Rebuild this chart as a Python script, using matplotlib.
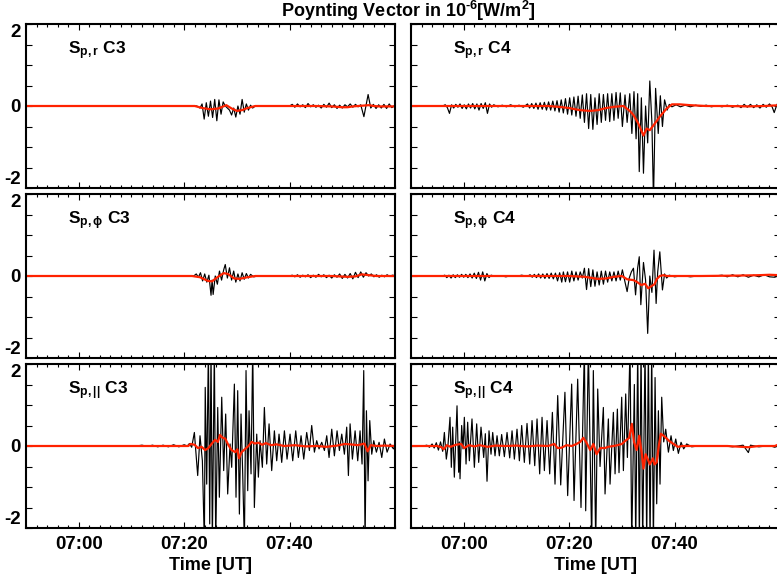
import numpy as np
import matplotlib.pyplot as plt
from matplotlib.ticker import MultipleLocator, FixedLocator, FuncFormatter

plt.rcParams['font.family'] = 'Liberation Sans'
plt.rcParams['font.weight'] = 'bold'
plt.rcParams['mathtext.fontset'] = 'custom'
plt.rcParams['mathtext.rm'] = 'Liberation Sans:bold'
plt.rcParams['mathtext.bf'] = 'Liberation Sans:bold'
plt.rcParams['mathtext.it'] = 'Liberation Sans:bold'
plt.rcParams['mathtext.default'] = 'rm'

# time in minutes after 06:50 UT, values in 1e-6 W/m^2
# C3, radial component
spr_c3 = [(0, 0), (3, 0.01), (6, -0.01), (9, 0.01), (12, 0), (15, 0.01), (18, -0.01), (21, 0),
          (24, 0.01), (27, -0.01), (30, 0), (32.4, 0), (33.0, -0.05), (33.4, 0.05), (33.8, -0.32),
          (34.2, 0.08), (34.6, -0.25), (35.0, 0.12), (35.4, -0.28), (35.8, 0.16), (36.2, -0.36),
          (36.6, 0.15), (37.0, -0.2), (37.4, 0.1), (37.8, 0.0), (38.2, -0.05), (38.6, -0.1),
          (39.0, -0.22), (39.4, -0.05), (39.8, -0.27), (40.2, 0.0), (40.6, -0.2), (41.0, 0.16),
          (41.4, -0.15), (41.8, 0.05), (42.2, -0.1), (42.6, 0.02), (43.0, -0.05), (43.5, 0),
          (44.5, 0.01), (46, -0.01), (48, 0.01), (50, 0),
          (50.5, 0.04), (51.0, -0.03), (51.5, 0.05), (52.0, -0.02), (52.5, 0.03), (53.0, -0.04),
          (53.5, 0.06), (54.0, -0.02), (54.5, 0.03), (55.0, -0.03), (55.5, 0.02), (56.0, -0.05),
          (56.5, 0.04), (57.0, -0.03), (57.5, 0.07), (58.0, -0.04), (58.5, 0.03), (59.0, -0.06),
          (59.5, 0.02), (60.0, -0.05), (60.5, 0.03), (61.0, -0.02), (61.5, 0.05), (62.0, -0.03),
          (62.5, 0.04), (63.0, -0.02), (63.5, 0.03), (64.1, -0.26), (64.9, 0.28), (65.4, -0.05),
          (65.9, 0.04), (66.4, -0.06), (66.9, 0.03), (67.4, -0.05), (67.9, 0.04), (68.4, -0.06),
          (68.9, 0.05), (69.4, -0.04), (70, 0.02)]
spr_c3_avg = [(0, 0), (32, 0), (33.5, -0.05), (35, -0.08), (36.5, -0.06), (38, 0.02), (39, -0.06),
              (40, -0.12), (41, -0.1), (42, -0.05), (43.5, 0), (46, 0), (50, 0), (55, 0),
              (58, -0.01), (60, -0.03), (61, -0.03), (62, -0.01), (64, 0.01), (65, 0.02), (66, 0),
              (67, -0.01), (70, -0.01)]

# C3, azimuthal component
spp_c3 = [(0, 0), (3, 0.01), (6, -0.01), (9, 0), (12, 0.01), (15, -0.01), (18, 0), (21, 0.01),
          (24, 0), (27, -0.01), (30, 0), (31.8, 0), (32.3, 0.05), (32.7, -0.03), (33.1, 0.08),
          (33.5, -0.12), (33.9, 0.05), (34.3, -0.15), (34.7, 0.02), (35.1, -0.47), (35.3, -0.1),
          (35.5, -0.45), (35.9, 0.0), (36.3, -0.2), (36.7, 0.12), (37.1, -0.1), (37.5, 0.15),
          (37.8, 0.28), (38.2, -0.05), (38.6, 0.2), (39.0, -0.1), (39.4, 0.12), (39.8, -0.15),
          (40.2, 0.05), (40.6, -0.12), (41.0, 0.08), (41.4, -0.08), (41.8, 0.06), (42.2, -0.05),
          (42.6, 0.04), (43.2, -0.02), (44.0, 0), (45.5, 0.01), (47, -0.01), (48.5, 0.01), (50, 0),
          (50.5, 0.02), (51.0, -0.02), (51.5, 0.03), (52.0, -0.03), (52.5, 0.02), (53.0, -0.02),
          (53.5, 0.03), (54.0, -0.04), (54.5, 0.02), (55.0, -0.03), (55.5, 0.04), (56.0, -0.02),
          (56.5, 0.03), (57.0, -0.04), (57.5, 0.02), (58.0, -0.05), (58.5, 0.03), (59.0, -0.03),
          (59.5, 0.05), (60.0, -0.06), (60.5, 0.04), (61.0, -0.05), (61.5, 0.06), (62.0, -0.07),
          (62.5, 0.09), (63.0, -0.04), (63.5, 0.1), (64.0, -0.03), (64.5, 0.08), (65.0, 0.0),
          (65.5, 0.05), (66.0, -0.02), (66.5, 0.03), (67.0, -0.03), (67.5, 0.02), (68.0, -0.02),
          (68.5, 0.03), (69.0, -0.01), (69.5, 0.02), (70, 0.01)]
spp_c3_avg = [(0, 0), (31.5, 0), (33, -0.03), (34.5, -0.12), (35.3, -0.13), (36.3, -0.03),
              (37.5, 0.07), (38.3, 0.05), (39.5, -0.06), (40.5, -0.07), (42, -0.03), (43.5, 0),
              (50, 0), (58, 0), (61, -0.02), (62.5, -0.01), (63.7, 0.04), (65, 0.02), (66.5, 0),
              (70, 0)]

# C3, field-aligned component
spb_c3 = [(0, 0), (3, 0), (6, 0.01), (9, 0), (12, -0.01), (15, 0), (18, 0.01), (21, 0), (22, 0.02),
          (23, -0.01), (24, 0.02), (25, -0.02), (26, 0.02), (27, -0.02), (28, 0.03), (29, -0.02),
          (30, 0.03), (30.6, 0.0), (31.0, 0.06), (31.43, -0.03), (31.94, 0.33), (32.57, -0.72),
          (33.01, 0.25), (33.46, -0.36), (33.84, -2.4), (34.0, 1.43), (34.28, -0.93), (34.6, 2.4),
          (34.85, -1.9), (35.1, 2.4), (35.35, -2.4), (35.73, 2.4), (35.99, -2.4), (36.37, 0.94),
          (36.68, -1.25), (37.13, 1.19), (37.5, -0.6), (37.88, 0.78), (38.26, -1.17), (38.71, 0.05),
          (39.02, -0.52), (39.53, 1.51), (39.84, -1.25), (40.16, 1.35), (40.48, -1.66),
          (40.79, 0.78), (41.11, -0.68), (41.43, -2.4), (41.74, 1.84), (42.06, -1.09),
          (42.31, 0.86), (42.69, -0.68), (43.01, 2.4), (43.32, -1.5), (43.77, 0.29), (44.08, -0.76),
          (44.4, 0.13), (44.84, -0.52), (45.22, 0.94), (45.66, -0.44), (46.11, 0.54),
          (46.61, -0.6), (47.12, 0.37), (47.56, -0.36), (48.0, 0.29), (48.51, -0.4), (49.02, 0.37),
          (49.52, -0.32), (50.09, 0.29), (50.6, -0.36), (51.17, 0.37), (51.67, -0.28),
          (52.18, 0.25), (52.69, -0.32), (53.25, 0.33), (53.76, -0.11), (54.2, 0.5),
          (54.71, -0.15), (55.15, 0.13), (55.59, -0.07), (56.1, 0.09), (56.61, -0.11),
          (57.05, 0.25), (57.49, -0.28), (58.0, 0.41), (58.5, -0.24), (59.01, 0.37),
          (59.45, -0.11), (59.9, 0.29), (60.4, -0.2), (60.84, 0.46), (61.16, -0.72), (61.48, 0.54),
          (61.92, -0.32), (62.43, 0.37), (62.93, -0.36), (63.37, 0.37), (63.75, -0.44),
          (64.07, 1.84), (64.32, -2.4), (64.58, 0.86), (64.89, -0.85), (65.21, 0.62),
          (65.59, -0.2), (65.97, 0.13), (66.47, -0.15), (66.98, 0.09), (67.49, -0.28),
          (67.99, 0.17), (68.5, -0.15), (69.07, 0.05), (69.7, -0.07), (70, 0)]
spb_c3_avg = [(0, 0), (30.8, 0), (31.2, 0.05), (32, 0.03), (32.6, -0.05), (33.3, -0.02),
              (34.0, -0.1), (34.6, -0.05), (35.2, 0.05), (35.86, 0.15), (36.4, 0.1), (36.8, 0.27),
              (37.3, 0.2), (37.8, 0.18), (38.4, 0.02), (39.0, -0.1), (39.7, -0.15), (40.1, -0.08),
              (40.4, -0.3), (40.9, -0.15), (41.5, -0.08), (42.2, 0.0), (42.8, 0.1), (43.4, 0.06),
              (44.1, 0.08), (44.8, 0.03), (45.5, 0.07), (46.5, 0.02), (47.5, 0.04), (49, 0.0),
              (51, 0.02), (53, -0.01), (55, 0), (57, -0.02), (59, 0.01), (60.5, 0.05),
              (61.5, 0.04), (63, 0.02), (64.2, 0.06), (64.8, -0.13), (65.4, 0.02), (66.5, 0),
              (68, 0.01), (70, 0)]

# C4, radial component
spr_c4 = [(0, 0), (1.5, 0.01), (3, -0.01), (4.5, 0.01), (6, 0),
          (6.5, 0.03), (6.9, -0.04), (7.3, -0.18), (7.7, 0.03), (8.1, -0.05), (8.5, 0.04),
          (8.9, -0.03), (9.3, 0.05), (9.7, -0.06), (10.1, 0.03), (10.5, -0.07), (10.9, 0.05),
          (11.3, -0.05), (11.7, 0.06), (12.1, -0.07), (12.5, 0.05), (12.9, -0.1), (13.3, 0.06),
          (13.7, -0.06), (14.1, 0.08), (14.5, -0.18), (14.9, 0.05), (15.3, -0.03),
          (15.7, 0.03), (16.5, -0.02), (17.3, 0.02), (18.1, -0.02), (18.9, 0.03), (19.7, -0.02),
          (20.5, 0.02), (21.3, -0.03),
          (22.1, 0.05), (22.5, -0.05), (22.9, 0.06), (23.3, -0.06), (23.7, 0.07), (24.1, -0.08),
          (24.5, 0.08), (24.9, -0.08), (25.3, 0.09), (25.7, -0.1), (26.1, 0.1), (26.5, -0.1),
          (26.9, 0.12), (27.3, -0.12), (27.7, 0.13), (28.1, -0.15), (28.5, 0.15), (28.9, -0.17),
          (29.3, 0.18), (29.7, -0.2), (30.1, 0.2), (30.5, -0.22), (30.9, 0.22), (31.3, -0.25),
          (31.7, 0.24), (32.1, -0.3), (32.5, 0.27), (32.9, -0.4), (33.3, 0.3), (33.7, -0.55),
          (34.1, 0.28), (34.5, -0.57), (34.9, 0.2), (35.3, -0.45), (35.7, 0.3), (36.1, -0.4),
          (36.5, 0.28), (36.9, -0.35), (37.3, 0.3), (37.7, -0.38), (38.1, 0.3), (38.5, -0.35),
          (38.9, 0.33), (39.3, -0.3), (39.7, 0.32), (40.1, -0.5), (40.6, 0.27), (41.0, -0.4),
          (41.5, 0.3), (41.9, -0.67), (42.3, 0.35), (42.7, -0.8), (43.0, 0.3), (43.3, -1.6),
          (43.7, 0.2), (44.1, -1.64), (44.5, 0.0), (44.9, -0.9), (45.3, 0.61), (45.7, -0.4),
          (46.0, -2.3), (46.4, 0.43), (46.9, -0.67), (47.3, 0.25), (47.7, -0.5), (48.1, 0.15),
          (48.6, -0.1), (49.0, 0.04), (49.5, -0.02), (50.3, 0.03), (51.1, -0.02), (52, 0.02),
          (53, -0.02), (54, 0.02), (55, -0.01), (56, 0.02), (57, -0.02), (58, 0.01), (59, -0.02),
          (60, 0.02), (61, -0.03), (62, 0.02), (62.6, -0.04), (63.2, 0.04), (63.8, -0.03),
          (64.4, 0.04), (65.0, -0.04), (65.6, 0.03), (66.2, -0.05), (66.8, 0.04), (67.4, -0.03),
          (68.0, 0.05), (68.5, -0.02), (68.9, -0.16), (69.4, 0.03), (70, 0.15)]
spr_c4_avg = [(0, 0), (26, 0), (28, -0.02), (30, -0.05), (32, -0.1), (34, -0.12), (35.5, -0.1),
              (37, -0.05), (38.5, -0.02), (40.3, 0.0), (41.5, -0.12), (42.2, -0.22),
              (43.1, -0.42), (43.8, -0.63), (44.1, -0.72), (44.7, -0.55), (45.3, -0.59),
              (46.3, -0.42), (47.2, -0.26), (48.5, -0.06), (49.5, 0.04), (51, 0.04), (53, 0.02),
              (56, 0), (60, 0), (64, -0.01), (67, 0), (70, 0.02)]

# C4, azimuthal component
spp_c4 = [(0, 0), (2, 0.01), (4, -0.01), (6, 0),
          (6.4, 0.02), (6.8, -0.04), (7.2, 0.02), (7.6, -0.05), (8.0, 0.03), (8.4, -0.04),
          (8.8, 0.03), (9.2, -0.03), (9.6, 0.04), (10.0, -0.03), (10.4, 0.04), (10.8, -0.04),
          (11.2, 0.05), (11.6, -0.05), (12.0, 0.07), (12.4, -0.06), (12.8, 0.09), (13.2, -0.1),
          (13.6, 0.1), (14.0, -0.12), (14.4, 0.06), (14.8, -0.04), (15.2, 0.02),
          (16, -0.01), (17, 0.01), (18, -0.02), (19, 0.01), (20, -0.01), (21, 0.02), (22, -0.01),
          (22.6, 0.03), (23.0, -0.03), (23.4, 0.04), (23.8, -0.04), (24.2, 0.05), (24.6, -0.05),
          (25.0, 0.05), (25.4, -0.06), (25.8, 0.06), (26.2, -0.06), (26.6, 0.07), (27.0, -0.07),
          (27.4, 0.07), (27.8, -0.12), (28.2, 0.08), (28.6, -0.15), (28.9, 0.1), (29.3, -0.14),
          (29.7, 0.1), (30.1, -0.15), (30.5, 0.12), (30.9, -0.12), (31.3, 0.1), (31.7, -0.1),
          (32.1, 0.1), (32.5, -0.05), (32.9, 0.19), (33.3, -0.33), (33.7, 0.18), (34.1, -0.26),
          (34.5, 0.15), (34.9, -0.25), (35.3, 0.1), (35.7, -0.22), (36.1, 0.12), (36.5, -0.2),
          (36.9, 0.12), (37.3, -0.15), (37.7, 0.1), (38.1, -0.12), (38.5, 0.1), (38.9, -0.12),
          (39.3, 0.12), (39.7, -0.1), (40.1, 0.15), (40.6, -0.15), (41.0, -0.38), (41.4, -0.05),
          (41.8, 0.1), (42.2, 0.19), (42.6, -0.46), (43.0, 0.2), (43.3, 0.47), (43.6, -0.7),
          (44.1, 0.33), (44.5, -0.1), (44.9, -1.4), (45.3, 0.0), (45.7, -0.4), (46.1, 0.63),
          (46.5, -0.67), (46.8, 0.1), (47.2, 0.59), (47.7, -0.34), (48.1, 0.05), (48.5, -0.05),
          (49, 0.02), (50, -0.02), (51.5, 0.01), (53, -0.02), (55, 0.01), (57, -0.01), (59, 0.02),
          (60, -0.02), (61, 0.03), (62, -0.02), (63, 0.03), (64, -0.03), (65, 0.02), (66, -0.02),
          (67, 0.03), (68, -0.02), (69, -0.03), (69.6, 0.0), (70, 0.12)]
spp_c4_avg = [(0, 0), (30, 0), (33, -0.02), (35.4, -0.07), (37, -0.06), (38.5, -0.02), (40, 0.0),
              (41, -0.08), (42.2, -0.1), (42.8, -0.14), (43.7, -0.22), (44.4, -0.19), (45, -0.3),
              (45.7, -0.24), (46.2, -0.2), (46.6, -0.08), (47.2, 0.0), (47.9, 0.02), (48.5, 0),
              (55, 0), (62, 0.01), (66, 0.02), (68, 0.03), (70, 0.02)]

# C4, field-aligned component
spb_c4 = [(0, 0), (1, 0.01), (2, -0.01), (3, 0.02), (3.5, -0.03), (4.0, 0.05), (4.4, -0.05),
          (4.8, 0.08), (5.2, -0.1), (5.6, 0.1), (6.01, -0.13), (6.33, 0.33), (6.7, -0.32),
          (6.96, -0.07), (7.4, 0.7), (7.65, -0.52), (7.91, 0.46), (8.22, -0.76), (8.73, 0.98),
          (9.04, -0.64), (9.17, 0.1), (9.3, -0.8), (9.61, 0.5), (9.87, -0.07), (10.12, 0.7),
          (10.44, -0.44), (10.75, 0.58), (11.07, -0.36), (11.57, 0.66), (12.02, -0.52),
          (12.46, 0.54), (12.84, -0.4), (13.28, 0.46), (13.79, -0.28), (14.1, 0.3),
          (14.42, -0.86), (14.8, 0.37), (15.18, -0.2), (15.5, 0.33), (15.94, -0.24),
          (16.32, 0.25), (16.76, -0.24), (17.2, 0.28), (17.71, -0.26), (18.22, 0.33),
          (18.72, -0.29), (19.17, 0.37), (19.61, -0.32), (20.11, 0.41), (20.56, -0.36),
          (21.0, 0.5), (21.5, -0.4), (22.01, 0.55), (22.52, -0.44), (22.96, 0.62), (23.47, -0.48),
          (23.91, 0.66), (24.41, -0.68), (24.86, 0.7), (25.3, -0.6), (25.81, 0.62),
          (26.31, -0.68), (26.82, 0.82), (27.32, -0.93), (27.83, 1.23), (28.4, -0.95),
          (29.2, 1.31), (29.72, -1.21), (30.48, 1.51), (30.93, -1.33), (31.62, 1.63),
          (32.25, -1.5), (32.89, 2.4), (33.14, -1.58), (33.65, 2.4), (34.28, -2.4), (34.59, 1.84),
          (35.04, -2.4), (35.42, 1.39), (35.86, -0.5), (36.49, 0.94), (36.81, -1.17),
          (37.44, 0.66), (37.76, -0.93), (38.39, 0.82), (38.71, -0.68), (39.15, 0.9),
          (39.46, -0.65), (39.97, 1.19), (40.29, -0.6), (40.73, 1.27), (41.05, -0.28),
          (41.55, 2.4), (41.87, -2.4), (42.37, 1.5), (42.63, -2.4), (43.01, 2.4), (43.32, -2.4),
          (43.64, 2.4), (43.95, -2.4), (44.4, 2.4), (44.71, -2.4), (45.03, 2.4), (45.35, -2.4),
          (45.66, 2.4), (45.98, -2.4), (46.3, 1.67), (46.61, -1.41), (46.93, 0.86),
          (47.24, -0.93), (47.56, 1.19), (47.94, 0.1), (48.32, 0.41), (48.83, -0.15),
          (49.33, 0.25), (49.77, -0.11), (50.22, 0.17), (50.72, -0.18), (51.23, 0.09),
          (51.73, -0.07), (52.3, 0.05), (53.25, -0.02), (55, 0.01), (57, -0.01), (59, 0.01),
          (61, -0.02), (63, 0.02), (64, -0.16), (64.4, 0.02), (66, -0.02), (68, 0.01),
          (69, -0.03), (69.6, 0), (70, 0.08)]
spb_c4_avg = [(0, 0), (5, 0), (5.8, -0.03), (6.2, -0.08), (6.8, 0.02), (7.5, -0.02), (8.5, 0.03),
              (9.5, 0.05), (10.1, -0.05), (11, 0.02), (12, -0.01), (13, 0.02), (14.5, -0.02),
              (16, 0.01), (18, 0), (20, 0.01), (22, -0.01), (24, 0.01), (26, 0), (27.2, 0.05),
              (27.8, -0.05), (28.6, -0.04), (29.5, 0.02), (30.5, 0), (31.4, 0.05), (32.1, 0.1),
              (32.7, 0.2), (33.3, 0.08), (34.0, -0.1), (34.6, 0.05), (35.2, -0.2), (35.9, -0.05),
              (36.8, -0.05), (37.4, -0.02), (38.4, 0), (39.2, 0.02), (40.0, 0.05), (40.6, 0.12),
              (41.4, 0.2), (41.9, 0.54), (42.3, 0.1), (42.8, -0.1), (43.3, 0.25), (43.8, -0.2),
              (44.1, -0.55), (44.5, -0.2), (45.0, -0.35), (45.3, -0.45), (45.9, -0.3),
              (46.2, -0.45), (46.6, -0.4), (47.0, 0.0), (47.4, 0.3), (48.2, 0.22), (49, 0.12),
              (49.8, 0.05), (50.6, -0.02), (51.5, 0), (55, 0), (60, 0), (64, -0.03), (66, 0),
              (69, 0), (70, 0.05)]

labels = [r'S$_{p,r}$ C3', r'S$_{p,r}$ C4',
          r'S$_{p,\phi}$ C3', r'S$_{p,\phi}$ C4',
          r'S$_{p,||}$ C3', r'S$_{p,||}$ C4']
black_series = [spr_c3, spr_c4, spp_c3, spp_c4, spb_c3, spb_c4]
red_series = [spr_c3_avg, spr_c4_avg, spp_c3_avg, spp_c4_avg, spb_c3_avg, spb_c4_avg]

W, H = 777, 579
fig = plt.figure(figsize=(W / 100, H / 100), dpi=100)

col_left = [26, 411]
row_top = [24, 194, 364]
panel_w, panel_h = 369, 164


def clock(t, pos):
    m = int(round(410 + t))
    return f'{m // 60:02d}:{m % 60:02d}'


def ylab(y, pos):
    return f'{y:.0f}' if abs(y) in (0, 2) else ''


for i in range(6):
    row, col = divmod(i, 2)
    x0 = col_left[col]
    y0 = row_top[row] + panel_h
    ax = fig.add_axes([x0 / W, 1 - y0 / H, panel_w / W, panel_h / H])

    t, v = np.array(black_series[i]).T
    ax.plot(t, v, color='black', lw=0.85)
    t, v = np.array(red_series[i]).T
    ax.plot(t, v, color='#ff2200', lw=1.6)

    ax.set_xlim(0, 70)
    ax.set_ylim(-2, 2)
    ax.xaxis.set_major_locator(FixedLocator([10, 30, 50]))
    ax.xaxis.set_minor_locator(MultipleLocator(2))
    ax.xaxis.set_major_formatter(FuncFormatter(clock))
    ax.yaxis.set_major_locator(MultipleLocator(0.5))
    ax.yaxis.set_major_formatter(FuncFormatter(ylab))

    ax.tick_params(which='both', direction='in', top=True, right=True, width=0.8,
                   labelsize=13.5)
    ax.tick_params(axis='y', length=4.5, pad=4)
    ax.tick_params(axis='x', which='major', length=4.5, pad=5.5)
    ax.tick_params(axis='x', which='minor', length=2.3)
    for s in ax.spines.values():
        s.set_linewidth(1.5)

    if row < 2:
        ax.tick_params(axis='x', labelbottom=False)
    if col == 1:
        ax.tick_params(axis='y', labelleft=False)
    else:
        # keep the end labels inside the panel height
        for tick, loc in zip(ax.yaxis.get_major_ticks(), ax.yaxis.get_majorticklocs()):
            if loc >= 2:
                tick.label1.set_va('top')
            elif loc <= -2:
                tick.label1.set_va('bottom')

    ax.text(0.114, 0.817, labels[i], transform=ax.transAxes, fontsize=12.5,
            fontweight='bold', va='baseline', ha='left')

    if row == 2:
        fig.text((x0 + panel_w / 2) / W, 1 - 565 / H, 'Time [UT]', ha='center',
                 va='center', fontsize=13, fontweight='bold')

fig.text(408 / W, 1 - 11 / H, r'Poynting Vector in 10$^{\text{-6}}$[W/m$^{2}$]', ha='center',
         va='center', fontsize=13, fontweight='bold')

fig.savefig('out.png', dpi=100)
